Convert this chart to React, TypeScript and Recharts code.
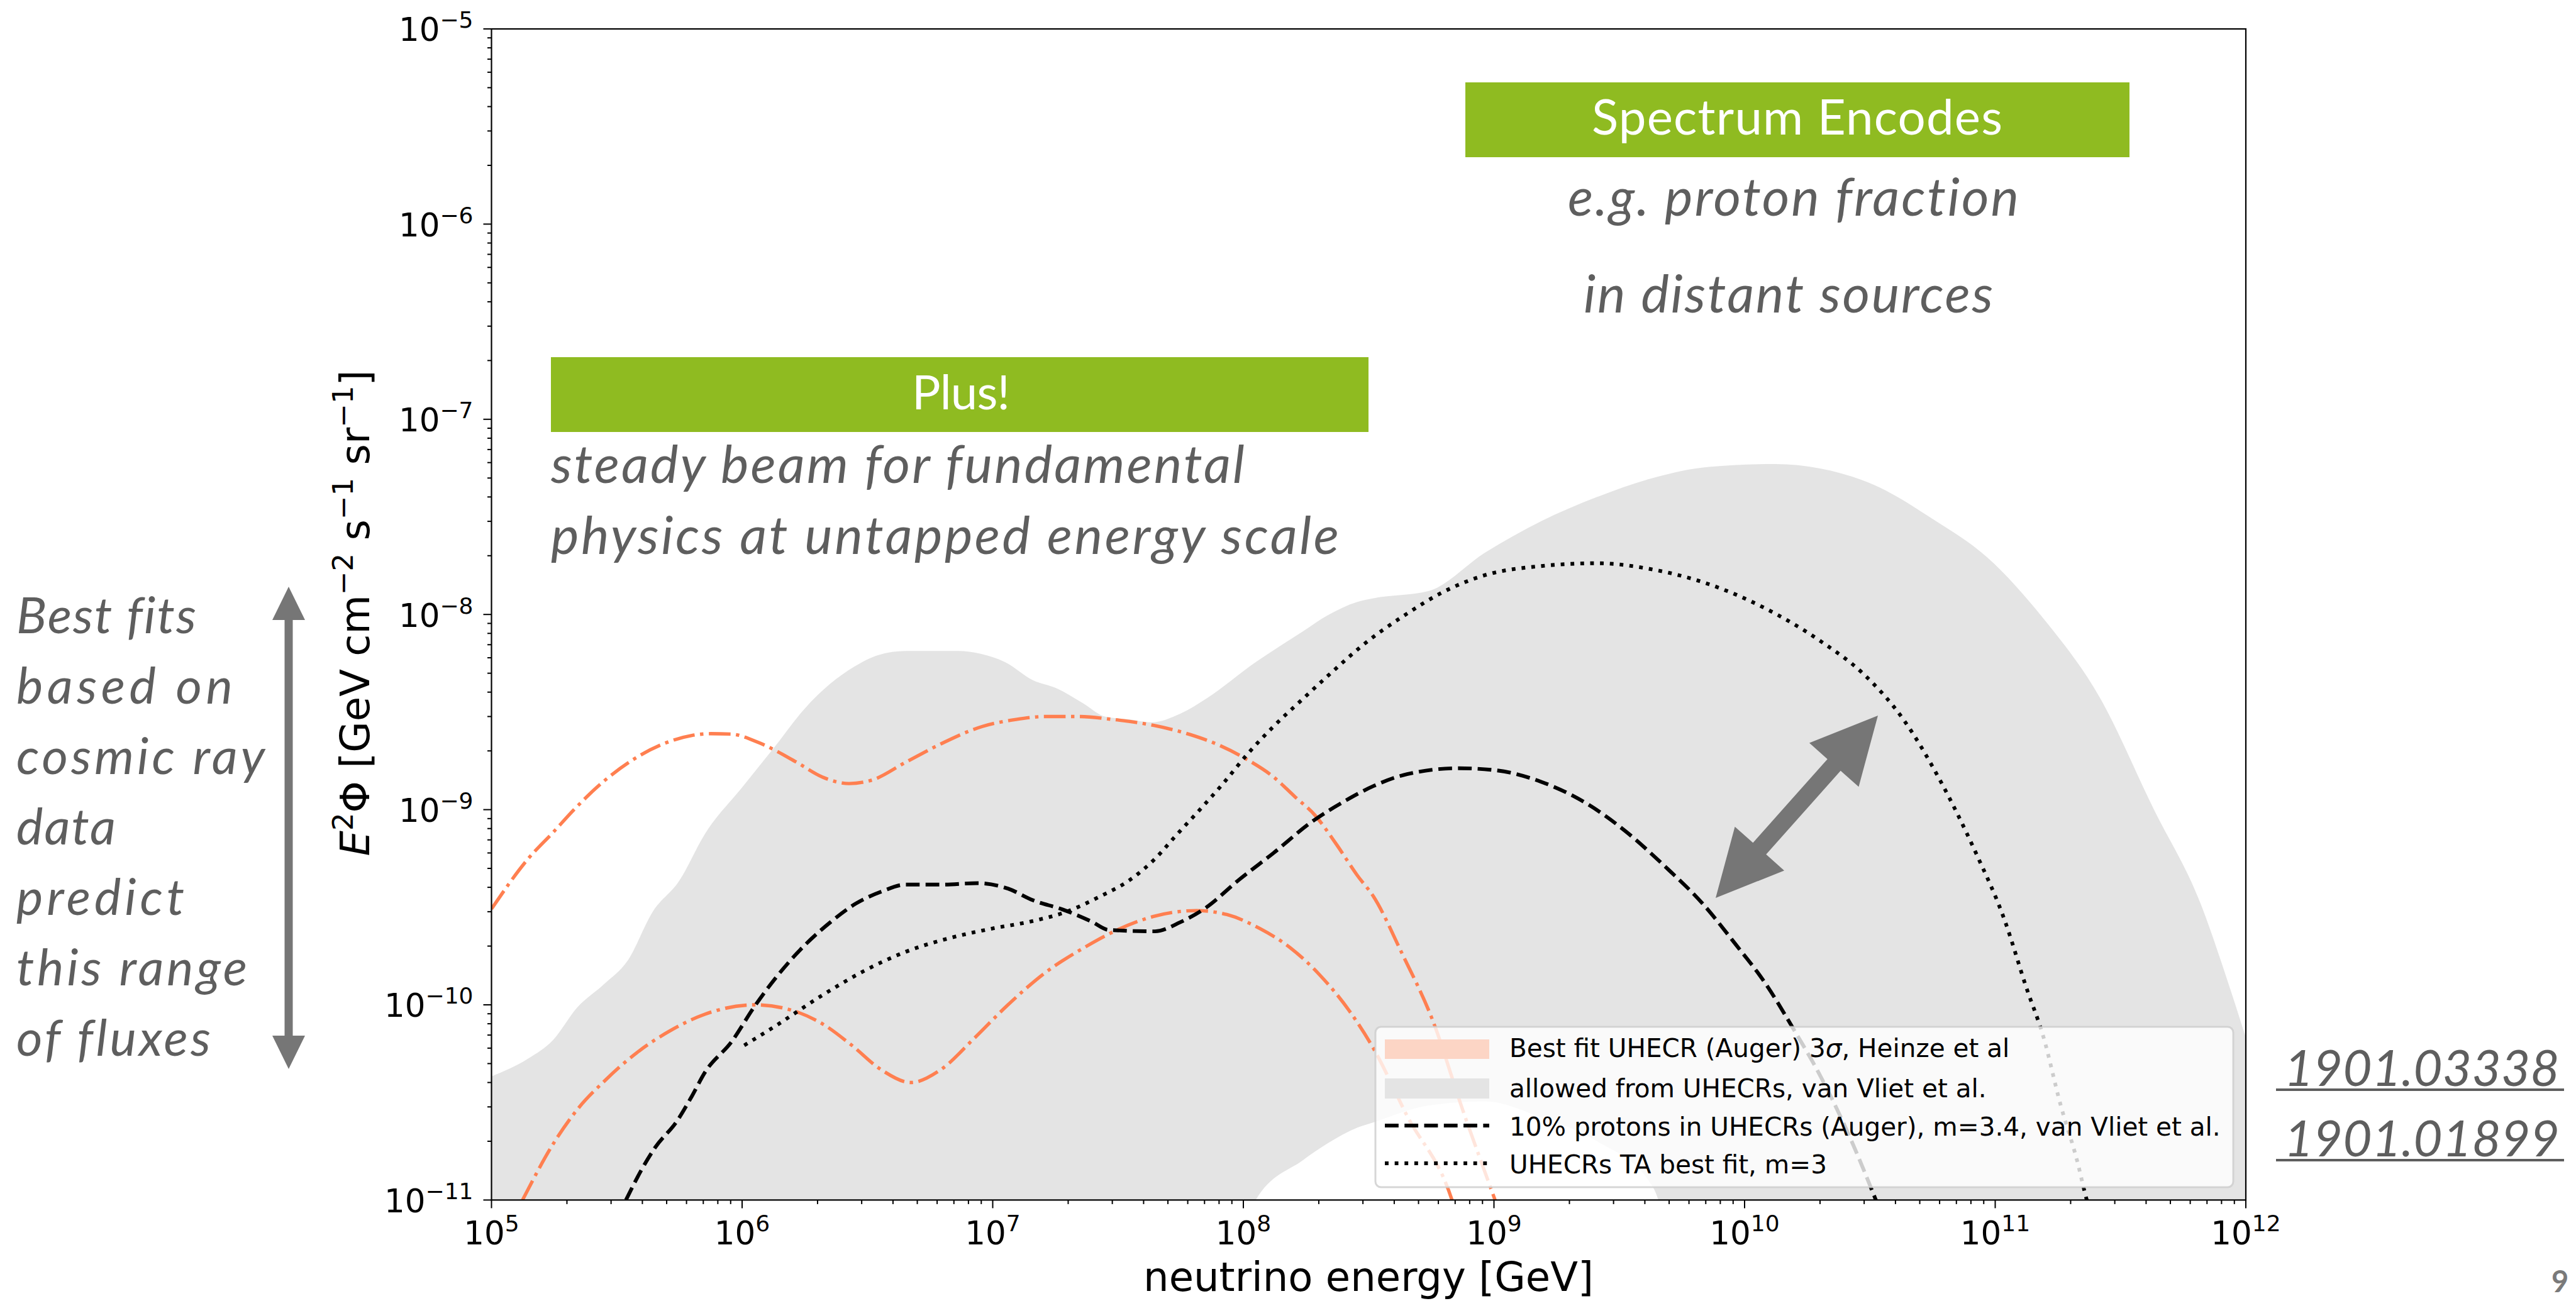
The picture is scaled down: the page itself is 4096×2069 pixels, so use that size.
import React from "react";
import { ComposedChart, Area, Line, XAxis, YAxis } from "recharts";

const W = 4096;
const H = 2069;

// plot box on the page
const PLOT_LEFT = 781.5;
const PLOT_RIGHT = 3571;
const PLOT_TOP = 46;
const PLOT_BOTTOM = 1908.4;
const Y_AXIS_W = 100;
const X_AXIS_H = 100;

const X_DECADES = [1e5, 1e6, 1e7, 1e8, 1e9, 1e10, 1e11, 1e12];
const Y_DECADES = [1e-11, 1e-10, 1e-9, 1e-8, 1e-7, 1e-6, 1e-5];
const MINOR_STEPS = [2, 3, 4, 5, 6, 7, 8, 9];

// allowed from UHECRs, van Vliet et al.: [energy GeV, lower, upper]  (1e-12 = below the frame)
const allowedBand: [number, number, number][] = [
  [1.0e5, 1e-12, 4.3e-11],
  [1.4e5, 1e-12, 5.3e-11],
  [1.76e5, 1e-12, 6.6e-11],
  [2.2e5, 1e-12, 9.7e-11],
  [2.8e5, 1e-12, 1.27e-10],
  [3.5e5, 1e-12, 1.69e-10],
  [4.4e5, 1e-12, 3.0e-10],
  [5.6e5, 1e-12, 4.3e-10],
  [7.1e5, 1e-12, 7.5e-10],
  [1.0e6, 1e-12, 1.3e-9],
  [1.33e6, 1e-12, 2.05e-9],
  [1.78e6, 1e-12, 3.3e-9],
  [2.24e6, 1e-12, 4.4e-9],
  [2.8e6, 1e-12, 5.4e-9],
  [3.5e6, 1e-12, 6.2e-9],
  [4.5e6, 1e-12, 6.5e-9],
  [7.2e6, 1e-12, 6.5e-9],
  [8.9e6, 1e-12, 6.3e-9],
  [1.12e7, 1e-12, 5.7e-9],
  [1.45e7, 1e-12, 4.6e-9],
  [1.79e7, 1e-12, 4.2e-9],
  [2.3e7, 1e-12, 3.5e-9],
  [2.8e7, 1e-12, 3.0e-9],
  [3.5e7, 1e-12, 2.9e-9],
  [4.3e7, 1e-12, 2.8e-9],
  [5.6e7, 1e-12, 3.1e-9],
  [7.1e7, 1e-12, 3.7e-9],
  [1.12e8, 1.0e-11, 5.7e-9],
  [1.73e8, 1.6e-11, 8.2e-9],
  [2.17e8, 1.95e-11, 9.9e-9],
  [2.85e8, 2.35e-11, 1.16e-8],
  [3.3e8, 2.5e-11, 1.21e-8],
  [5.5e8, 3.05e-11, 1.32e-8],
  [9.2e8, 3.2e-11, 2.07e-8],
  [1.54e9, 2.65e-11, 3.0e-8],
  [2.58e9, 2.0e-11, 4.0e-8],
  [4.3e9, 1.17e-11, 5.0e-8],
  [7.2e9, 1e-12, 5.7e-8],
  [1.33e10, 1e-12, 5.9e-8],
  [2.0e10, 1e-12, 5.6e-8],
  [3.3e10, 1e-12, 4.6e-8],
  [5.6e10, 1e-12, 3.1e-8],
  [9.3e10, 1e-12, 1.96e-8],
  [1.56e11, 1e-12, 9.5e-9],
  [2.6e11, 1e-12, 3.8e-9],
  [4.3e11, 1e-12, 1.0e-9],
  [6.6e11, 1e-12, 3.3e-10],
  [8.5e11, 1e-12, 1.3e-10],
  [1.0e12, 1e-12, 6.8e-11],
];

// Best fit UHECR (Auger) 3 sigma, Heinze et al. — upper edge
const heinzeHigh: [number, number][] = [
  [1.0e5, 3.1e-10], [1.4e5, 5.6e-10], [1.77e5, 7.7e-10], [2.15e5, 1.01e-9],
  [2.81e5, 1.4e-9], [3.66e5, 1.8e-9], [4.97e5, 2.2e-9], [6.3e5, 2.4e-9],
  [7.5e5, 2.45e-9], [9.0e5, 2.44e-9], [1.17e6, 2.2e-9], [1.65e6, 1.75e-9],
  [2.09e6, 1.47e-9], [2.67e6, 1.36e-9], [3.31e6, 1.42e-9], [4.5e6, 1.75e-9],
  [6.2e6, 2.17e-9], [9.1e6, 2.67e-9], [1.24e7, 2.9e-9], [1.63e7, 3.0e-9],
  [2.2e7, 3.0e-9], [3.0e7, 2.9e-9], [4.4e7, 2.7e-9], [6.1e7, 2.43e-9],
  [8.0e7, 2.14e-9], [1.04e8, 1.8e-9], [1.32e8, 1.47e-9], [1.6e8, 1.17e-9],
  [1.94e8, 9.3e-10], [2.36e8, 6.6e-10], [2.85e8, 4.6e-10], [3.3e8, 3.6e-10],
  [4.3e8, 1.83e-10], [5.7e8, 8.3e-11], [7.5e8, 2.9e-11], [1.01e9, 1.0e-11],
  [1.12e9, 6.9e-12],
];

// Heinze et al. — lower edge
const heinzeLow: [number, number][] = [
  [1.33e5, 1.0e-11], [1.79e5, 2.0e-11], [2.21e5, 2.93e-11], [2.84e5, 4.1e-11],
  [3.81e5, 5.7e-11], [5.1e5, 7.3e-11], [7.1e5, 8.95e-11], [1.13e6, 1.0e-10],
  [1.57e6, 9.4e-11], [2.09e6, 8.0e-11], [2.74e6, 6.2e-11], [3.59e6, 4.65e-11],
  [4.71e6, 4.0e-11], [6.2e6, 4.65e-11], [8.4e6, 6.7e-11], [1.15e7, 1.0e-10],
  [1.63e7, 1.47e-10], [2.31e7, 1.96e-10], [3.14e7, 2.42e-10], [4.44e7, 2.85e-10],
  [6.5e7, 3.04e-10], [8.6e7, 2.9e-10], [1.17e8, 2.45e-10], [1.54e8, 1.96e-10],
  [2.02e8, 1.42e-10], [2.65e8, 9.3e-11], [3.3e8, 6.0e-11], [4.5e8, 2.7e-11],
  [6.8e8, 1.0e-11], [7.4e8, 7.0e-12],
];

// 10% protons in UHECRs (Auger), m=3.4, van Vliet et al.
const protons10: [number, number][] = [
  [3.44e5, 1.0e-11], [3.97e5, 1.43e-11], [4.5e5, 1.86e-11], [5.5e5, 2.54e-11],
  [6.3e5, 3.4e-11], [7.1e5, 4.5e-11], [9.1e5, 6.5e-11], [1.12e6, 9.8e-11],
  [1.65e6, 1.83e-10], [2.25e6, 2.65e-10], [2.84e6, 3.3e-10], [3.59e6, 3.8e-10],
  [4.5e6, 4.13e-10], [6.2e6, 4.13e-10], [8.7e6, 4.2e-10], [1.15e7, 3.94e-10],
  [1.45e7, 3.43e-10], [1.9e7, 3.08e-10], [2.48e7, 2.67e-10], [2.9e7, 2.42e-10],
  [4.44e7, 2.38e-10], [5.6e7, 2.65e-10], [7.1e7, 3.15e-10], [9.6e7, 4.37e-10],
  [1.32e8, 6.0e-10], [1.86e8, 8.6e-10], [2.55e8, 1.11e-9], [3.3e8, 1.32e-9],
  [4.5e8, 1.52e-9], [7.2e8, 1.63e-9], [1.02e9, 1.59e-9], [1.54e9, 1.39e-9],
  [2.33e9, 1.08e-9], [3.33e9, 7.8e-10], [4.75e9, 5.2e-10], [6.8e9, 3.3e-10],
  [9.3e9, 2.01e-10], [1.2e10, 1.31e-10], [1.55e10, 7.7e-11], [2.01e10, 4.3e-11],
  [2.58e10, 2.22e-11], [3.34e10, 1.0e-11], [3.63e10, 7.6e-12],
];

// UHECRs TA best fit, m=3
const taBestFit: [number, number][] = [
  [1.02e6, 6.2e-11], [1.36e6, 7.8e-11], [2.09e6, 1.12e-10], [3.06e6, 1.49e-10],
  [4.5e6, 1.87e-10], [6.65e6, 2.19e-10], [9.8e6, 2.45e-10], [1.45e7, 2.69e-10],
  [1.97e7, 3.0e-10], [2.69e7, 3.6e-10], [3.53e7, 4.37e-10], [4.44e7, 5.6e-10],
  [5.4e7, 7.4e-10], [6.8e7, 1.02e-9], [8.3e7, 1.36e-9], [1.04e8, 1.93e-9],
  [1.32e8, 2.67e-9], [1.73e8, 3.7e-9], [2.27e8, 5.1e-9], [2.97e8, 6.9e-9],
  [4.5e8, 1.01e-8], [6.1e8, 1.28e-8], [9.2e8, 1.59e-8], [1.54e9, 1.77e-8],
  [2.58e9, 1.83e-8], [4.3e9, 1.7e-8], [7.2e9, 1.43e-8], [1.2e10, 1.08e-8],
  [2.01e10, 7.3e-9], [3.01e10, 4.9e-9], [4.3e10, 2.9e-9], [6.2e10, 1.32e-9],
  [8.4e10, 5.95e-10], [1.09e11, 2.72e-10], [1.33e11, 1.23e-10], [1.56e11, 6.8e-11],
  [1.82e11, 3.1e-11], [2.12e11, 1.6e-11], [2.32e11, 1.0e-11], [2.45e11, 8.0e-12],
];

const leftNote = [
  "Best fits",
  "based on",
  "cosmic ray",
  "data",
  "predict",
  "this range",
  "of fluxes",
];
const leftNoteWidths = [286, 344, 395, 158, 267, 367, 309];
const arxivRefs = ["1901.03338", "1901.01899"];

const withMinors = (decades: number[]) =>
  decades.flatMap((d, i) =>
    i === decades.length - 1 ? [d] : [d, ...MINOR_STEPS.map((m) => m * d)]
  );
const xTicks = withMinors(X_DECADES);
const yTicks = withMinors(Y_DECADES);

const toPoints = (rows: [number, number][]) => rows.map(([e, f]) => ({ e, f }));
const bandPoints = allowedBand.map(([e, lo, hi]) => ({ e, lo, hi }));

const CORAL = "#FF7F50";
const GREEN = "#8FBB21";
const SLIDE_GREY = "#5E5E5E";
const ARROW_GREY = "#767676";
const TICK_FONT = 51.5;
const SUP_FONT = 36;

const expLabel = (v: number) => {
  const p = Math.round(Math.log10(v));
  return { p, major: Math.abs(Math.log10(v) - p) < 1e-6 };
};
const expText = (p: number) => (p < 0 ? "\u2212" + Math.abs(p) : String(p));

function XTick(props: any) {
  const { x, y, payload } = props;
  const { p, major } = expLabel(payload.value);
  return (
    <g>
      <line x1={x} x2={x} y1={y} y2={y + (major ? 13 : 6.5)} stroke="#000" strokeWidth={2} />
      {major && (
        <text x={x} y={y + 70.5} textAnchor="middle" fontFamily="DejaVu Sans" fontSize={TICK_FONT} fill="#000">
          10<tspan dy={-21} fontSize={SUP_FONT}>{expText(p)}</tspan>
        </text>
      )}
    </g>
  );
}

function YTick(props: any) {
  const { x, y, payload } = props;
  const { p, major } = expLabel(payload.value);
  return (
    <g>
      <line x1={x - (major ? 13 : 6.5)} x2={x} y1={y} y2={y} stroke="#000" strokeWidth={2} />
      {major && (
        <text x={x - 29} y={y + 19.4} textAnchor="end" fontFamily="DejaVu Sans" fontSize={TICK_FONT} fill="#000">
          10<tspan dy={-21} fontSize={SUP_FONT}>{expText(p)}</tspan>
        </text>
      )}
    </g>
  );
}

// filled double-headed arrow between two tips
function doubleArrow(x1: number, y1: number, x2: number, y2: number, shaft: number, headW: number, headL: number) {
  const len = Math.hypot(x2 - x1, y2 - y1);
  const ux = (x2 - x1) / len;
  const uy = (y2 - y1) / len;
  const nx = -uy;
  const ny = ux;
  const at = (d: number, o: number) => `${x1 + ux * d + nx * o},${y1 + uy * d + ny * o}`;
  return [
    at(0, 0),
    at(headL, headW / 2),
    at(headL, shaft / 2),
    at(len - headL, shaft / 2),
    at(len - headL, headW / 2),
    at(len, 0),
    at(len - headL, -headW / 2),
    at(len - headL, -shaft / 2),
    at(headL, -shaft / 2),
    at(headL, -headW / 2),
  ].join(" ");
}

// matplotlib-style dash patterns, scaled by line width
const LINE_W = 5.9;
const CORAL_W = 5.4;
const DASHED = `${3.7 * LINE_W} ${1.6 * LINE_W}`;
const DOTTED = `${1 * LINE_W} ${1.65 * LINE_W}`;
const DASHDOT = `${6.4 * CORAL_W} ${1.6 * CORAL_W} ${1 * CORAL_W} ${1.6 * CORAL_W}`;

function Overlay() {
  const legendX = 2187;
  const legendY = 1633;
  const handleX1 = 2202;
  const handleX2 = 2368;
  const textX = 2400;
  const legendFont = { fontFamily: "DejaVu Sans", fontSize: 40.5, fill: "#000" };
  const slideItalic = {
    fontFamily: "Lato",
    fontStyle: "italic" as const,
    fill: SLIDE_GREY,
    style: { fontVariantLigatures: "none" as const },
  };
  return (
    <svg width={W} height={H} style={{ position: "absolute", left: 0, top: 0, pointerEvents: "none" }}>
      {/* axes frame */}
      <rect x={PLOT_LEFT} y={PLOT_TOP} width={PLOT_RIGHT - PLOT_LEFT} height={PLOT_BOTTOM - PLOT_TOP}
        fill="none" stroke="#000" strokeWidth={2.2} />

      {/* axis titles */}
      <text x={2176} y={2053} textAnchor="middle" fontFamily="DejaVu Sans" fontSize={64} fill="#000">
        neutrino energy [GeV]
      </text>
      <text transform="translate(587,975) rotate(-90)" textAnchor="middle" fontFamily="DejaVu Sans" fontSize={64} fill="#000">
        <tspan fontStyle="italic">E</tspan>
        <tspan dy={-26} fontSize={45}>2</tspan>
        <tspan dy={26}>{"\u03A6 [GeV cm"}</tspan>
        <tspan dy={-26} fontSize={45}>{"\u22122"}</tspan>
        <tspan dy={26}>{" s"}</tspan>
        <tspan dy={-26} fontSize={45}>{"\u22121"}</tspan>
        <tspan dy={26}>{" sr"}</tspan>
        <tspan dy={-26} fontSize={45}>{"\u22121"}</tspan>
        <tspan dy={26}>]</tspan>
      </text>

      {/* legend */}
      <rect x={legendX} y={legendY} width={1364} height={255} rx={9} fill="#fff" fillOpacity={0.8}
        stroke="#cccccc" strokeOpacity={0.8} strokeWidth={3} />
      <rect x={handleX1} y={1653} width={handleX2 - handleX1} height={31} fill="#FCD5C5" />
      <rect x={handleX1} y={1715} width={handleX2 - handleX1} height={32} fill="#E4E4E4" />
      <line x1={handleX1} x2={handleX2} y1={1790} y2={1790} stroke="#000" strokeWidth={LINE_W} strokeDasharray={DASHED} />
      <line x1={handleX1} x2={handleX2} y1={1850} y2={1850} stroke="#000" strokeWidth={LINE_W} strokeDasharray={DOTTED} />
      <text x={textX} y={1681} {...legendFont}>
        Best fit UHECR (Auger) 3<tspan fontStyle="italic">{"\u03C3"}</tspan>, Heinze et al
      </text>
      <text x={textX} y={1745} {...legendFont}>allowed from UHECRs, van Vliet et al.</text>
      <text x={textX} y={1806} {...legendFont}>10% protons in UHECRs (Auger), m=3.4, van Vliet et al.</text>
      <text x={textX} y={1866} {...legendFont}>UHECRs TA best fit, m=3</text>

      {/* "Spectrum Encodes" box */}
      <rect x={2330} y={131} width={1056} height={119} fill={GREEN} />
      <text x={2531} y={214} fontFamily="Lato" fontSize={78} fill="#fff" textLength={653} lengthAdjust="spacing">
        Spectrum Encodes
      </text>
      <text x={2493} y={343} fontSize={84} {...slideItalic} textLength={717} lengthAdjust="spacing">
        e.g. proton fraction
      </text>
      <text x={2518} y={497} fontSize={84} {...slideItalic} textLength={651} lengthAdjust="spacing">
        in distant sources
      </text>

      {/* "Plus!" box */}
      <rect x={876} y={568} width={1300} height={119} fill={GREEN} />
      <text x={1450} y={651} fontFamily="Lato" fontSize={76} fill="#fff" textLength={156} lengthAdjust="spacing">
        Plus!
      </text>
      <text x={876} y={768} fontSize={84} {...slideItalic} textLength={1103} lengthAdjust="spacing">
        steady beam for fundamental
      </text>
      <text x={876} y={881} fontSize={84} {...slideItalic} textLength={1253} lengthAdjust="spacing">
        physics at untapped energy scale
      </text>

      {/* side note with range arrow */}
      {leftNote.map((s, i) => (
        <text key={s} x={26} y={1007 + i * 112} fontSize={80} {...slideItalic}
          textLength={leftNoteWidths[i]} lengthAdjust="spacing">
          {s}
        </text>
      ))}
      <polygon points={doubleArrow(459, 933, 459, 1700, 13, 52, 53)} fill={ARROW_GREY} />
      <polygon points={doubleArrow(2986, 1138, 2728, 1428, 28, 105, 105)} fill={ARROW_GREY} />

      {/* references */}
      {arxivRefs.map((s, i) => (
        <g key={s}>
          <text x={3632} y={1727 + i * 112} fontSize={80} {...slideItalic} textLength={438} lengthAdjust="spacing">
            {s}
          </text>
          <rect x={3619} y={1731 + i * 112} width={458} height={4} fill={SLIDE_GREY} />
        </g>
      ))}

      {/* page number */}
      <text x={4057} y={2055} fontFamily="Lato" fontWeight={700} fontSize={47} fill="#7A7A7A">9</text>
    </svg>
  );
}

export default function App() {
  return (
    <div style={{ position: "absolute", left: 0, top: 0, width: W, height: H, background: "#fff", overflow: "hidden" }}>
      <ComposedChart
        width={W}
        height={H}
        margin={{
          top: PLOT_TOP,
          right: W - PLOT_RIGHT,
          bottom: H - PLOT_BOTTOM - X_AXIS_H,
          left: PLOT_LEFT - Y_AXIS_W,
        }}
      >
        <XAxis
          dataKey="e"
          type="number"
          scale="log"
          domain={[1e5, 1e12]}
          allowDataOverflow
          ticks={xTicks}
          interval={0}
          tick={<XTick />}
          tickLine={false}
          axisLine={false}
          tickSize={0}
          tickMargin={0}
          height={X_AXIS_H}
        />
        <YAxis
          type="number"
          scale="log"
          domain={[1e-11, 1e-5]}
          allowDataOverflow
          ticks={yTicks}
          interval={0}
          tick={<YTick />}
          tickLine={false}
          axisLine={false}
          tickSize={0}
          tickMargin={0}
          width={Y_AXIS_W}
        />
        <Area
          data={bandPoints}
          dataKey={(d: any) => [d.lo, d.hi]}
          type="monotone"
          fill="#E4E4E4"
          fillOpacity={1}
          stroke="none"
          isAnimationActive={false}
        />
        <Line data={toPoints(heinzeHigh)} dataKey="f" type="monotone" stroke={CORAL} strokeWidth={CORAL_W}
          strokeDasharray={DASHDOT} dot={false} activeDot={false} isAnimationActive={false} />
        <Line data={toPoints(heinzeLow)} dataKey="f" type="monotone" stroke={CORAL} strokeWidth={CORAL_W}
          strokeDasharray={DASHDOT} dot={false} activeDot={false} isAnimationActive={false} />
        <Line data={toPoints(protons10)} dataKey="f" type="monotone" stroke="#000" strokeWidth={LINE_W}
          strokeDasharray={DASHED} dot={false} activeDot={false} isAnimationActive={false} />
        <Line data={toPoints(taBestFit)} dataKey="f" type="monotone" stroke="#000" strokeWidth={LINE_W}
          strokeDasharray={DOTTED} dot={false} activeDot={false} isAnimationActive={false} />
      </ComposedChart>
      <Overlay />
    </div>
  );
}
